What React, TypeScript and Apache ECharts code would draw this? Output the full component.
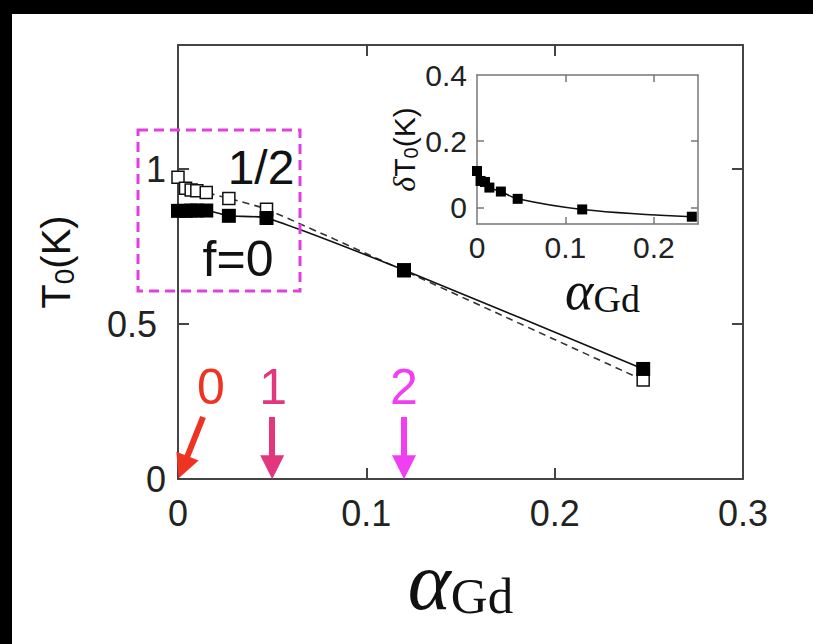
import React, { useEffect, useRef } from 'react';
import * as echarts from 'echarts';

// ---- data ----
const alphaMain = [0, 0.004, 0.007, 0.01, 0.015, 0.027, 0.047, 0.12, 0.247];
const tF0 = [0.865, 0.865, 0.866, 0.866, 0.866, 0.849, 0.842, 0.674, 0.355];
const tFHalf = [0.973, 0.938, 0.932, 0.93, 0.924, 0.905, 0.87, 0.672, 0.319];

const alphaInset = [0, 0.004, 0.009, 0.014, 0.027, 0.046, 0.119, 0.243];
const deltaT0 = [0.11, 0.08, 0.077, 0.06, 0.048, 0.026, -0.006, -0.028];

const mainXTicks = [0, 0.1, 0.2, 0.3];
const mainYTicks = [0, 0.5, 1];
const insetXTicks = [0, 0.1, 0.2];
const insetYTicks = [0, 0.2, 0.4];

const arrowLabels = ['0', '1', '2'];
const arrowColors = ['#ee3322', '#e2377c', '#f23ef2'];
const arrowStartAlpha = [0.0133, 0.05, 0.12];
const arrowStartT = [0.2, 0.2, 0.2];
const arrowEndAlpha = [0.0027, 0.05, 0.12];
const arrowEndT = [0.038, 0.038, 0.038];
const arrowLabelAlpha = [0.0175, 0.0505, 0.12];
const arrowLabelT = [0.297, 0.297, 0.297];

const SANS = 'Liberation Sans';
const SERIF = 'Liberation Serif';
const AX = '#444';
const AXI = '#777';

const zip = (a: number[], b: number[]) => a.map((v, i) => [v, b[i]]);

export default function App() {
  const ref = useRef<HTMLDivElement>(null);
  useEffect(() => {
    if (!ref.current) return;
    const chart = echarts.init(ref.current, null, { renderer: 'svg' });
    const fmt = (v: number) => String(+v.toFixed(2));
    const mainTickInner = mainXTicks.slice(1, -1);
    const mainLine = { show: true, onZero: false, lineStyle: { color: AX, width: 2 } };
    const insetLine = { show: true, onZero: false, lineStyle: { color: AXI, width: 1.5 } };
    const option: any = {
      animation: false,
      backgroundColor: '#ffffff',
      grid: [
        { left: 178, top: 45, width: 565, height: 434 },
        { left: 477, top: 75, width: 221, height: 149 },
      ],
      xAxis: [
        {
          gridIndex: 0, type: 'value', min: 0, max: 0.3, position: 'bottom',
          axisLine: mainLine,
          axisTick: { show: true, inside: true, length: 11, customValues: mainTickInner, lineStyle: { color: AX, width: 2 } },
          axisLabel: { customValues: mainXTicks, formatter: fmt, fontSize: 36, fontFamily: SANS, color: '#222', margin: 16 },
          splitLine: { show: false },
          name: '{a|α}{g|Gd}', nameLocation: 'middle', nameGap: 62,
          nameTextStyle: {
            rich: {
              a: { fontFamily: SERIF, fontStyle: 'italic', fontSize: 82, lineHeight: 80, color: '#111' },
              g: { fontFamily: SERIF, fontSize: 51, lineHeight: 28, verticalAlign: 'bottom', color: '#111' },
            },
          },
        },
        {
          gridIndex: 0, type: 'value', min: 0, max: 0.3, position: 'top',
          axisLine: mainLine,
          axisTick: { show: true, inside: true, length: 11, customValues: mainTickInner, lineStyle: { color: AX, width: 2 } },
          axisLabel: { show: false }, splitLine: { show: false },
        },
        {
          gridIndex: 1, type: 'value', min: 0, max: 0.25, position: 'bottom',
          axisLine: insetLine,
          axisTick: { show: true, inside: true, length: 7, customValues: [0.1, 0.2], lineStyle: { color: AXI, width: 1.5 } },
          axisLabel: { customValues: insetXTicks, formatter: fmt, fontSize: 30, fontFamily: SANS, color: '#222', margin: 8 },
          splitLine: { show: false },
          name: '{a|α}{g|Gd}', nameLocation: 'middle', nameGap: 40, nameMoveOverlap: false,
          nameTextStyle: {
            padding: [0, 0, 0, 30],
            rich: {
              a: { fontFamily: SERIF, fontStyle: 'italic', fontSize: 54, lineHeight: 54, color: '#111' },
              g: { fontFamily: SERIF, fontSize: 38, lineHeight: 38, verticalAlign: 'bottom', color: '#111' },
            },
          },
        },
        {
          gridIndex: 1, type: 'value', min: 0, max: 0.25, position: 'top',
          axisLine: insetLine,
          axisTick: { show: true, inside: true, length: 7, customValues: [0.1, 0.2], lineStyle: { color: AXI, width: 1.5 } },
          axisLabel: { show: false }, splitLine: { show: false },
        },
      ],
      yAxis: [
        {
          gridIndex: 0, type: 'value', min: 0, max: 1.4, position: 'left',
          axisLine: mainLine,
          axisTick: { show: true, inside: true, length: 11, customValues: [0.5, 1], lineStyle: { color: AX, width: 2 } },
          axisLabel: {
            customValues: mainYTicks,
            formatter: (v: number) => (Math.abs(v - 0.5) < 1e-9 ? '{w|0.5}' : fmt(v)),
            fontSize: 36, fontFamily: SANS, color: '#222', margin: 12,
            rich: { w: { fontSize: 36, fontFamily: SANS, color: '#222', padding: [0, 9, 0, 0] } },
          },
          splitLine: { show: false },
          name: '{t|T}{s|0}{t|(K)}', nameLocation: 'middle', nameRotate: 90, nameGap: 100,
          nameTextStyle: {
            rich: {
              t: { fontFamily: SANS, fontSize: 40, lineHeight: 44, color: '#111' },
              s: { fontFamily: SANS, fontSize: 28, lineHeight: 14, verticalAlign: 'bottom', color: '#111' },
            },
          },
        },
        {
          gridIndex: 0, type: 'value', min: 0, max: 1.4, position: 'right',
          axisLine: mainLine,
          axisTick: { show: true, inside: true, length: 11, customValues: [0.5, 1], lineStyle: { color: AX, width: 2 } },
          axisLabel: { show: false }, splitLine: { show: false },
        },
        {
          gridIndex: 1, type: 'value', min: -0.05, max: 0.4, position: 'left',
          axisLine: insetLine,
          axisTick: { show: true, inside: true, length: 7, customValues: [0, 0.2], lineStyle: { color: AXI, width: 1.5 } },
          axisLabel: { customValues: insetYTicks, formatter: fmt, fontSize: 30, fontFamily: SANS, color: '#222', margin: 10 },
          splitLine: { show: false },
          name: '{d|δ}{t|T}{s|0}{t|(K)}', nameLocation: 'middle', nameRotate: 90, nameGap: 40,
          nameTextStyle: {
            rich: {
              d: { fontFamily: SERIF, fontStyle: 'italic', fontSize: 32, lineHeight: 34, color: '#111' },
              t: { fontFamily: SANS, fontSize: 30, lineHeight: 34, color: '#111' },
              s: { fontFamily: SANS, fontSize: 20, lineHeight: 10, verticalAlign: 'bottom', color: '#111' },
            },
          },
        },
        {
          gridIndex: 1, type: 'value', min: -0.05, max: 0.4, position: 'right',
          axisLine: insetLine,
          axisTick: { show: true, inside: true, length: 7, customValues: [0, 0.2], lineStyle: { color: AXI, width: 1.5 } },
          axisLabel: { show: false }, splitLine: { show: false },
        },
      ],
      series: [
        {
          name: 'f=1/2', type: 'line', xAxisIndex: 0, yAxisIndex: 0,
          data: zip(alphaMain, tFHalf), smooth: 0.2,
          symbol: 'rect', symbolSize: 12,
          itemStyle: { color: '#ffffff', borderColor: '#111', borderWidth: 1.5 },
          lineStyle: { color: '#333', width: 1.6, type: [7, 5] }, z: 2,
        },
        {
          name: 'f=0', type: 'line', xAxisIndex: 0, yAxisIndex: 0,
          data: zip(alphaMain, tF0), smooth: 0.2,
          symbol: 'rect', symbolSize: 14,
          itemStyle: { color: '#000' },
          lineStyle: { color: '#111', width: 1.6 }, z: 3,
        },
        {
          name: 'deltaT0', type: 'line', xAxisIndex: 2, yAxisIndex: 2,
          data: zip(alphaInset, deltaT0), smooth: 0.4,
          symbol: 'rect', symbolSize: 10,
          itemStyle: { color: '#000' },
          lineStyle: { color: '#111', width: 1.5 }, z: 3,
        },
        {
          name: 'arrows', type: 'scatter', xAxisIndex: 0, yAxisIndex: 0,
          symbolSize: 0, silent: true, z: 5,
          data: arrowLabels.map((t, i) => ({
            value: [arrowLabelAlpha[i], arrowLabelT[i]],
            name: t,
            label: { color: arrowColors[i] },
          })),
          label: {
            show: true, position: 'inside', formatter: (p: any) => p.name,
            fontSize: 50, fontFamily: SANS, fontWeight: 'normal',
            textBorderWidth: 0, textBorderColor: 'transparent', opacity: 1,
          },
          markLine: {
            silent: true, animation: false,
            symbol: ['none', 'triangle'], symbolSize: 24,
            label: { show: false },
            data: arrowLabels.map((_, i) => [
              { coord: [arrowStartAlpha[i], arrowStartT[i]], lineStyle: { color: arrowColors[i], width: 6, type: 'solid', opacity: 1 }, itemStyle: { color: arrowColors[i] } },
              { coord: [arrowEndAlpha[i], arrowEndT[i]], itemStyle: { color: arrowColors[i] } },
            ]),
          },
        },
      ],
      graphic: [
        { type: 'rect', shape: { x: 0, y: 0, width: 813, height: 14 }, style: { fill: '#000' }, z: 200 },
        { type: 'rect', shape: { x: 0, y: 0, width: 12, height: 644 }, style: { fill: '#000' }, z: 200 },
        {
          type: 'rect', shape: { x: 138, y: 130, width: 162, height: 161 },
          style: { fill: 'none', stroke: '#e040e0', lineWidth: 3, lineDash: [10, 6] }, z: 100,
        },
        {
          type: 'text', x: 261, y: 167, z: 100,
          style: { text: '1/2', fontSize: 48, fontFamily: SANS, fill: '#111', align: 'center', verticalAlign: 'middle' },
        },
        {
          type: 'text', x: 238, y: 259, z: 100,
          style: { text: 'f=0', fontSize: 50, fontFamily: SANS, fill: '#111', align: 'center', verticalAlign: 'middle' },
        },
      ],
    };
    chart.setOption(option);
    return () => chart.dispose();
  }, []);
  return (
    <div
      ref={ref}
      style={{ position: 'absolute', left: 0, top: 0, width: 813, height: 644 }}
    />
  );
}
